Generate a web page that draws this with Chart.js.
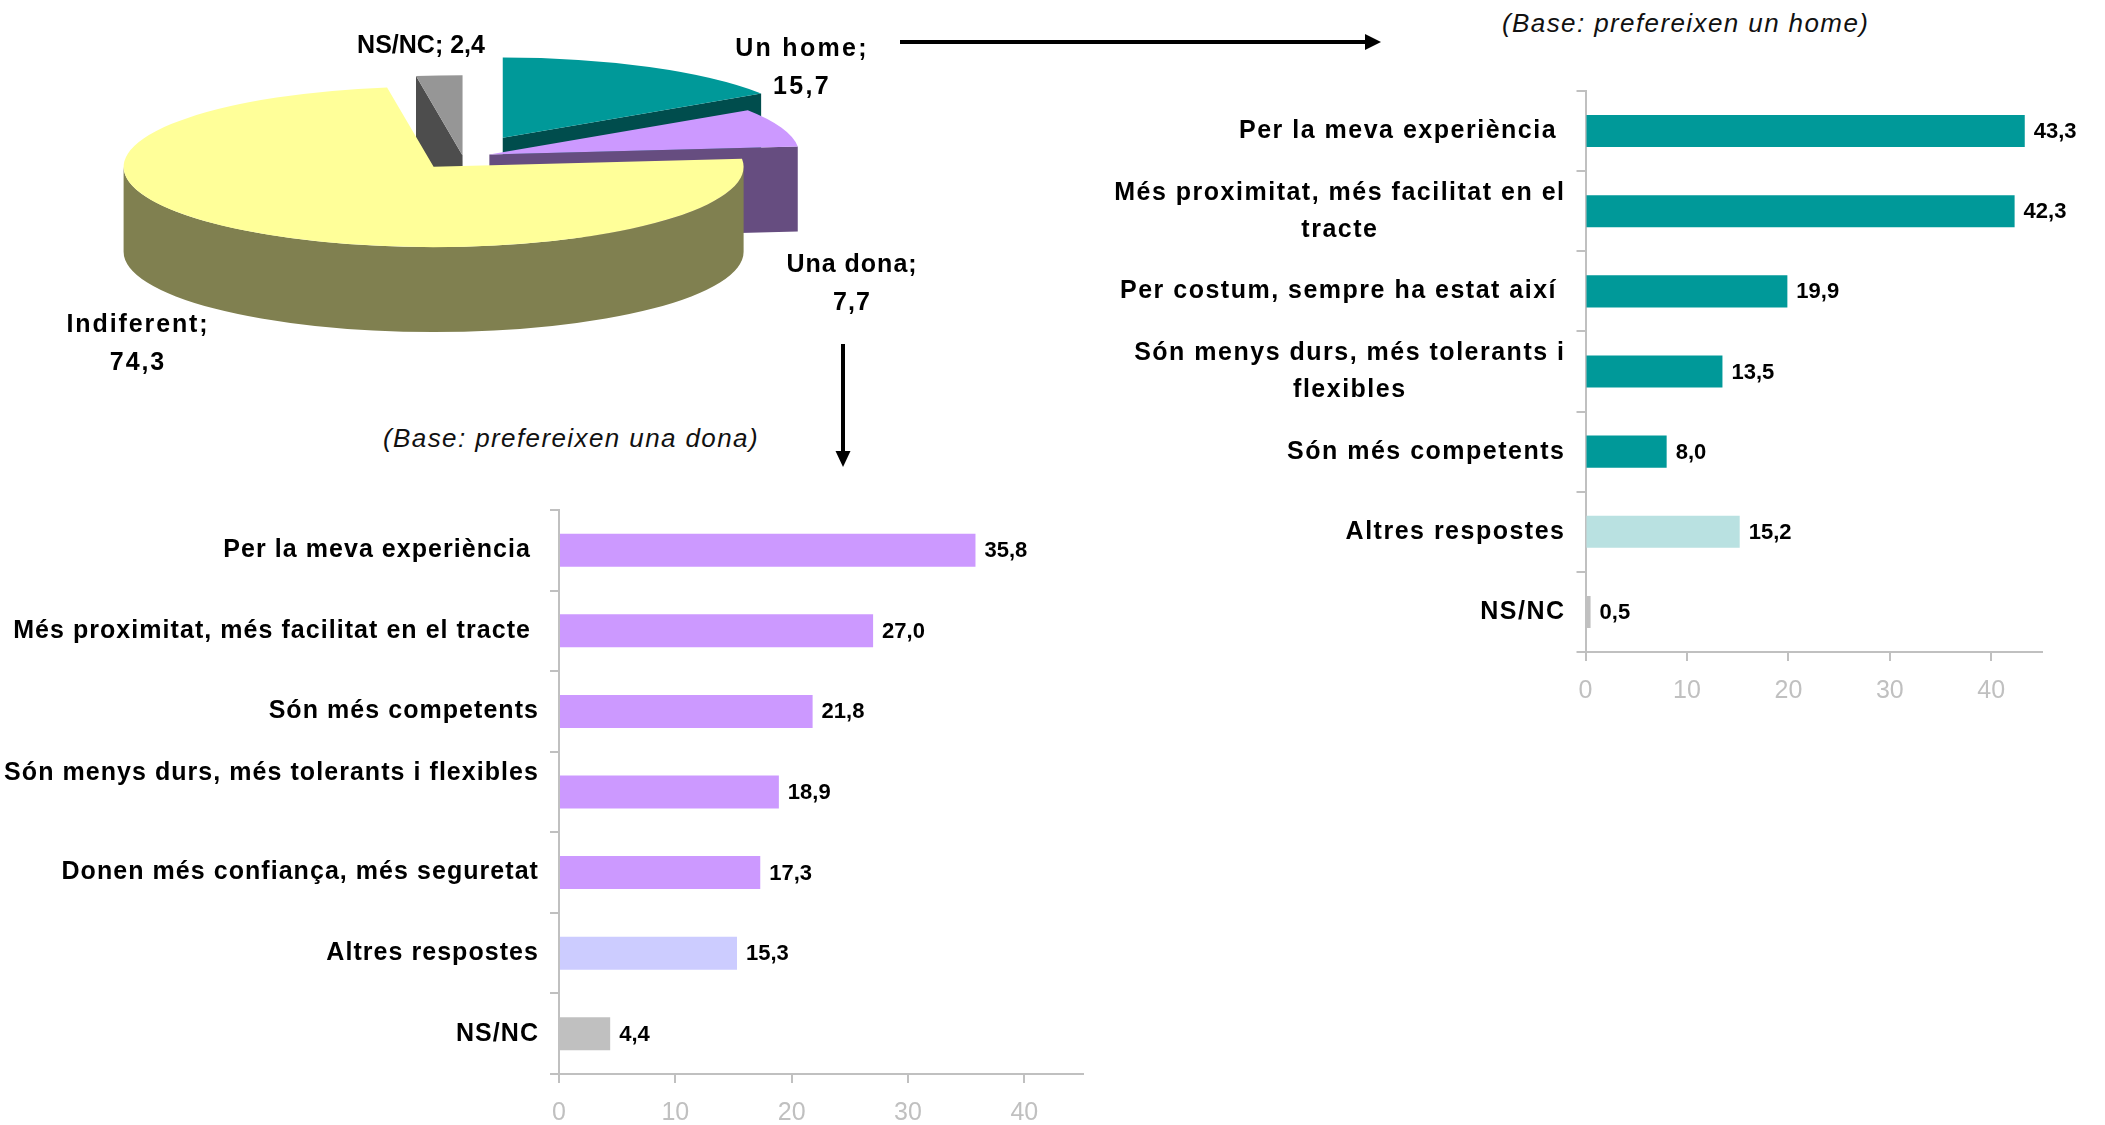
<!DOCTYPE html>
<html>
<head>
<meta charset="utf-8">
<script src="https://cdn.jsdelivr.net/npm/chart.js@4.4.0/dist/chart.umd.min.js"></script>
<style>
  body { margin: 0; width: 2105px; height: 1125px; background: #fff; position: relative; overflow: hidden;
         font-family: "Liberation Sans", Arial, sans-serif; }
  canvas { position: absolute; }
  .pielbl { position: absolute; font-weight: bold; font-size: 25px; line-height: 38px; color: #000;
            white-space: nowrap; text-align: center; transform: translateX(-50%); }
  .base { position: absolute; font-style: italic; font-size: 26px; line-height: 30px; color: #111;
          white-space: nowrap; letter-spacing: 1.4px; }
  svg { position: absolute; left: 0; top: 0; pointer-events: none; }
</style>
</head>
<body>
<canvas id="pie" width="1000" height="420" style="left:0;top:0"></canvas>
<canvas id="home" width="1025" height="652" style="left:1080px;top:60px"></canvas>
<canvas id="dona" width="1100" height="655" style="left:0;top:470px"></canvas>
<div class="base" style="left:1502px;top:8px">(Base: prefereixen un home)</div>
<div class="base" style="left:383px;top:423px">(Base: prefereixen una dona)</div>
<svg width="2105" height="1125">
  <line x1="900" y1="42" x2="1367" y2="42" stroke="#000" stroke-width="4"/>
  <polygon points="1365,34 1381,42 1365,50" fill="#000"/>
  <line x1="843" y1="344" x2="843" y2="453" stroke="#000" stroke-width="4"/>
  <polygon points="835.5,451 850.5,451 843,467" fill="#000"/>
</svg>
<script>
// pie: preferència home / dona
const pieLabels = ['Un home', 'Una dona', 'Indiferent', 'NS/NC'];
const pieValues = [15.7, 7.7, 74.3, 2.4];

// motius (base: prefereixen un home)
const homeLabels = ['Per la meva experiència ', ['Més proximitat, més facilitat en el', 'tracte'],
  'Per costum, sempre ha estat així ', ['Són menys durs, més tolerants i', 'flexibles'],
  'Són més competents', 'Altres respostes', 'NS/NC'];
const homeValues = [43.3, 42.3, 19.9, 13.5, 8.0, 15.2, 0.5];

// motius (base: prefereixen una dona)
const donaLabels = ['Per la meva experiència ', 'Més proximitat, més facilitat en el tracte ',
  'Són més competents', ['Són menys durs, més tolerants i flexibles', ''],
  'Donen més confiança, més seguretat', 'Altres respostes', 'NS/NC'];
const donaValues = [35.8, 27.0, 21.8, 18.9, 17.3, 15.3, 4.4];

const xTicks = [0, 10, 20, 30, 40];
const xMax = 45;

const FONT = '"Liberation Sans", Arial, sans-serif';
Chart.defaults.font.family = FONT;

const fmt = v => v.toFixed(1).replace('.', ',');

// ---- pie 3d look ----
const pieTop = ['#009999', '#cc99ff', '#ffff99', '#969696'];
const pieSide = ['#004d4d', '#664d80', '#808050', '#4d4d4d'];
const pieShift = [84, 28, 48, 6];   // explode distance along mid angle
const squash = 0.259;
const depth = 85;

const pie3d = {
  id: 'pie3d',
  beforeDatasetDraw(chart, args) {
    const ctx = chart.ctx;
    const arcs = chart.getDatasetMeta(args.index).data;
    const cy = arcs[0].y;
    const d = depth / squash;
    ctx.save();
    ctx.translate(0, cy);
    ctx.scale(1, squash);
    ctx.translate(0, -cy);

    const parts = arcs.map((arc, i) => {
      const mid = (arc.startAngle + arc.endAngle) / 2;
      return { i, arc, dx: Math.cos(mid) * pieShift[i], dy: Math.sin(mid) * pieShift[i],
               s: arc.startAngle, e: arc.endAngle, r: arc.outerRadius };
    }).sort((a, b) => a.dy - b.dy);

    // side walls, back to front
    parts.forEach(p => {
      const ax = p.arc.x + p.dx, ay = p.arc.y + p.dy, r = p.r;
      ctx.fillStyle = pieSide[p.i];
      const wall = a => {
        ctx.beginPath();
        ctx.moveTo(ax, ay);
        ctx.lineTo(ax + r * Math.cos(a), ay + r * Math.sin(a));
        ctx.lineTo(ax + r * Math.cos(a), ay + r * Math.sin(a) + d);
        ctx.lineTo(ax, ay + d);
        ctx.closePath();
        ctx.fill();
      };
      if (Math.cos(p.s) < -1e-6) wall(p.s);
      if (Math.cos(p.e) > 1e-6) wall(p.e);
      [0, 2 * Math.PI].forEach(k => {
        const a1 = Math.max(p.s, k), a2 = Math.min(p.e, k + Math.PI);
        if (a2 <= a1) return;
        ctx.beginPath();
        ctx.arc(ax, ay, r, a1, a2);
        ctx.lineTo(ax + r * Math.cos(a2), ay + r * Math.sin(a2) + d);
        ctx.arc(ax, ay + d, r, a2, a1, true);
        ctx.closePath();
        ctx.fill();
      });
    });

    // top faces
    parts.slice().sort((a, b) => a.i - b.i).forEach(p => {
      ctx.save();
      ctx.translate(p.dx, p.dy);
      p.arc.draw(ctx);
      ctx.restore();
    });
    ctx.restore();
    return false;
  }
};

new Chart('pie', {
  type: 'pie',
  data: {
    labels: pieLabels,
    datasets: [{ data: pieValues, backgroundColor: pieTop, borderWidth: 0 }]
  },
  options: {
    responsive: false,
    animation: false,
    events: [],
    radius: 310,
    layout: { padding: { left: 0, top: 0, right: 74, bottom: 106 } },
    plugins: { legend: { display: false }, tooltip: { enabled: false } }
  },
  plugins: [pie3d]
});

// pie labels (html text)
const pieLabelPos = [
  { x: 802, y: 28, ls: 2.3, split: true },
  { x: 852, y: 244, ls: 1.0, split: true },
  { x: 138, y: 304, ls: 1.9, split: true },
  { x: 421, y: 25, ls: 0, split: false }
];
pieLabels.forEach((lab, i) => {
  const p = pieLabelPos[i];
  const div = document.createElement('div');
  div.className = 'pielbl';
  div.style.left = p.x + 'px';
  div.style.top = p.y + 'px';
  div.style.letterSpacing = p.ls + 'px';
  if (p.split) div.innerHTML = lab + ';<br>' + fmt(pieValues[i]);
  else div.textContent = lab + '; ' + fmt(pieValues[i]);
  document.body.appendChild(div);
});

// ---- bar charts ----
const sideLabels = {
  id: 'sideLabels',
  afterDraw(chart, args, opts) {
    const ctx = chart.ctx;
    const y = chart.scales.y;
    const right = chart.chartArea.left - 20;
    ctx.save();
    ctx.fillStyle = '#000';
    ctx.textBaseline = 'middle';
    ctx.font = 'bold 25px ' + FONT;
    ctx.letterSpacing = opts.spacing + 'px';
    ctx.textAlign = 'center';
    chart.data.labels.forEach((lab, i) => {
      const lines = [].concat(lab);
      const w = Math.max(...lines.map(l => ctx.measureText(l).width));
      const cy = y.getPixelForValue(i);
      lines.forEach((l, j) => {
        ctx.fillText(l, right - w / 2, cy + (j - (lines.length - 1) / 2) * 37);
      });
    });
    ctx.font = 'bold 22px ' + FONT;
    ctx.letterSpacing = '0px';
    ctx.textAlign = 'left';
    const vals = chart.data.datasets[0].data;
    chart.getDatasetMeta(0).data.forEach((bar, i) => {
      ctx.fillText(fmt(vals[i]), bar.x + 9, bar.y + 1);
    });
    ctx.restore();
  }
};

function barChart(id, labels, values, colors, box) {
  return new Chart(id, {
    type: 'bar',
    data: {
      labels: labels,
      datasets: [{ data: values, backgroundColor: colors, barPercentage: box.bar, categoryPercentage: 1 }]
    },
    options: {
      indexAxis: 'y',
      responsive: false,
      animation: false,
      events: [],
      layout: { padding: { left: 0, top: box.top, right: box.right, bottom: 0 } },
      plugins: { legend: { display: false }, tooltip: { enabled: false }, sideLabels: { spacing: box.spacing } },
      scales: {
        x: {
          type: 'linear', min: 0, max: xMax, bounds: 'data',
          afterFit(s) { s.height = box.axisH; },
          afterBuildTicks(s) { s.ticks = xTicks.map(v => ({ value: v })); },
          ticks: { color: '#c0c0c0', font: { size: 25 }, padding: 15 },
          grid: { drawOnChartArea: false, tickLength: 9, color: '#c0c0c0', lineWidth: 2 },
          border: { color: '#c0c0c0', width: 2 }
        },
        y: {
          afterFit(s) { s.width = box.axisW; },
          ticks: { display: false },
          grid: { drawOnChartArea: false, tickLength: 9, color: '#c0c0c0', lineWidth: 2, offset: true },
          border: { color: '#c0c0c0', width: 2 }
        }
      }
    },
    plugins: [sideLabels]
  });
}

const homeColors = ['#009999', '#009999', '#009999', '#009999', '#009999', '#b9e1e1', '#c0c0c0'];
const donaColors = ['#cc99ff', '#cc99ff', '#cc99ff', '#cc99ff', '#cc99ff', '#ccccff', '#c0c0c0'];

barChart('home', homeLabels, homeValues, homeColors,
  { axisW: 505.5, top: 31, right: 63, axisH: 60, bar: 0.40, spacing: 1.5 });
barChart('dona', donaLabels, donaValues, donaColors,
  { axisW: 559, top: 40, right: 17.5, axisH: 51, bar: 0.41, spacing: 1.05 });
</script>
</body>
</html>
